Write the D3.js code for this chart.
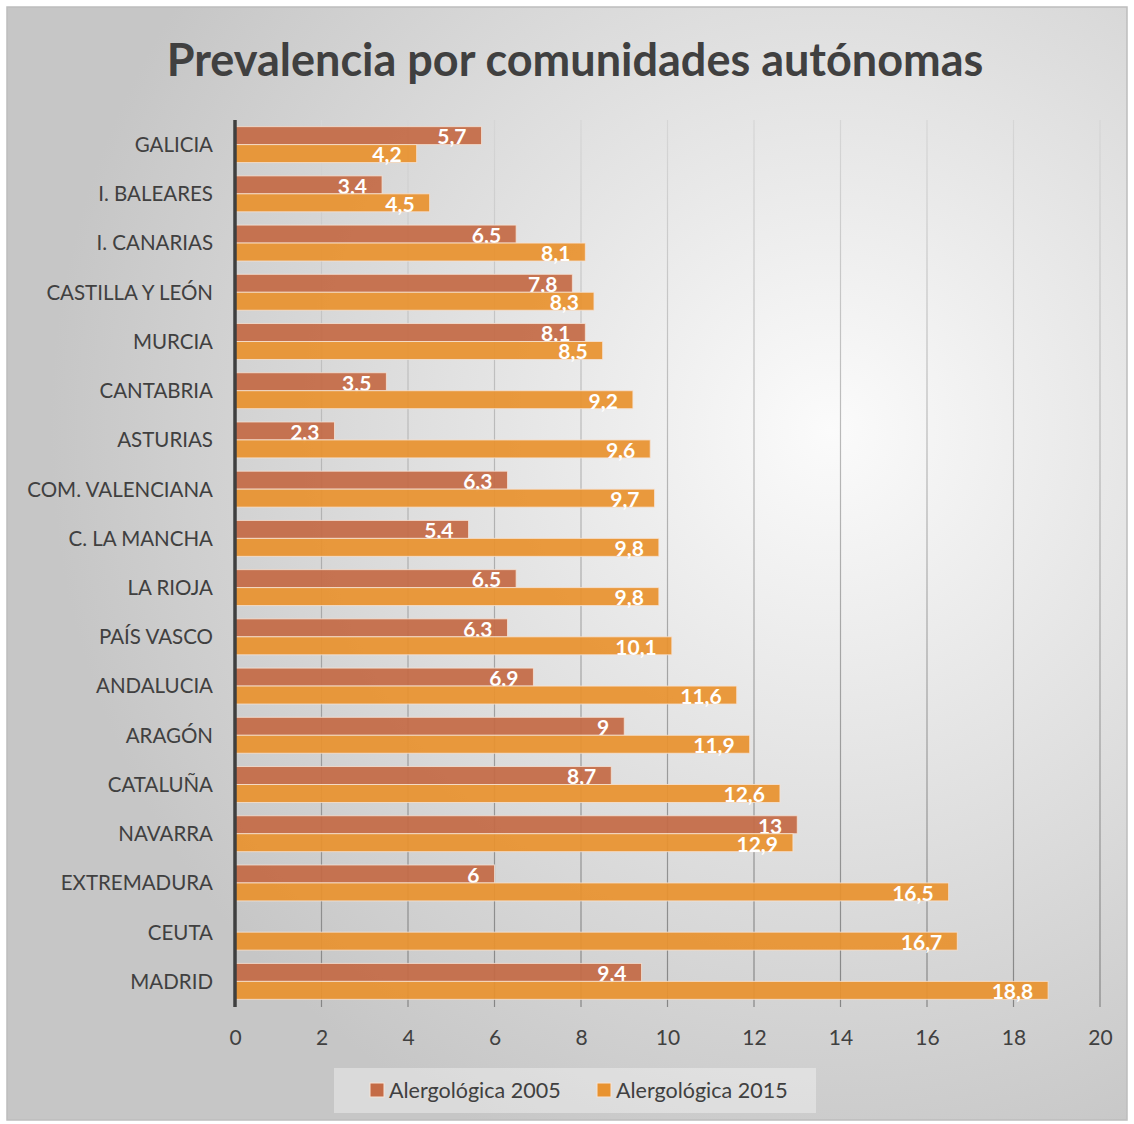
<!DOCTYPE html>
<meta charset="utf-8">
<head>
    <title>Prevalencia por comunidades autónomas</title>
</head>
<style>
    body { margin: 0; background: #fff; }
    text { font-family: Lato, "Open Sans", sans-serif; }
</style>
<script src="https://d3js.org/d3.v7.min.js"></script>
<body>
<div id="chart"></div>
</body>
<script>

    // data
    var categories = ["GALICIA", "I. BALEARES", "I. CANARIAS", "CASTILLA Y LEÓN", "MURCIA", "CANTABRIA",
        "ASTURIAS", "COM. VALENCIANA", "C. LA MANCHA", "LA RIOJA", "PAÍS VASCO", "ANDALUCIA",
        "ARAGÓN", "CATALUÑA", "NAVARRA", "EXTREMADURA", "CEUTA", "MADRID"];
    var series = ["Alergológica 2005", "Alergológica 2015"];
    var values2005 = [5.7, 3.4, 6.5, 7.8, 8.1, 3.5, 2.3, 6.3, 5.4, 6.5, 6.3, 6.9, 9, 8.7, 13, 6, null, 9.4];
    var values2015 = [4.2, 4.5, 8.1, 8.3, 8.5, 9.2, 9.6, 9.7, 9.8, 9.8, 10.1, 11.6, 11.9, 12.6, 12.9, 16.5, 16.7, 18.8];
    var xTicks = [0, 2, 4, 6, 8, 10, 12, 14, 16, 18, 20];
    var colors = ["#c46b46", "#e8922f"];

    var W = 1134, H = 1124;

    var svg = d3.select("#chart")
        .append("svg")
        .attr("width", W)
        .attr("height", H);

    var defs = svg.append("defs");

    // background gradient
    var bg = defs.append("radialGradient")
        .attr("id", "bg")
        .attr("gradientUnits", "userSpaceOnUse")
        .attr("cx", 830).attr("cy", 430).attr("r", 780);
    bg.append("stop").attr("offset", "0%").attr("stop-color", "#fbfbfb");
    bg.append("stop").attr("offset", "100%").attr("stop-color", "#c6c6c6");

    var gg = defs.append("linearGradient")
        .attr("id", "gridgrad")
        .attr("gradientUnits", "userSpaceOnUse")
        .attr("x1", 0).attr("y1", 120).attr("x2", 0).attr("y2", 1007);
    gg.append("stop").attr("offset", "0%").attr("stop-color", "#d6d6d6");
    gg.append("stop").attr("offset", "100%").attr("stop-color", "#858585");

    svg.append("rect")
        .attr("x", 7).attr("y", 7)
        .attr("width", 1120).attr("height", 1113)
        .attr("fill", "url(#bg)")
        .attr("stroke", "#bdbdbd")
        .attr("stroke-width", 1.5);

    // title
    svg.append("text")
        .attr("x", 575)
        .attr("y", 76)
        .attr("text-anchor", "middle")
        .attr("font-size", "45px")
        .attr("font-weight", "bold")
        .attr("fill", "#404040")
        .text("Prevalencia por comunidades autónomas");

    // scales
    var x = d3.scaleLinear()
        .domain([0, 20])
        .range([235, 1100]);

    var y = d3.scaleBand()
        .domain(categories)
        .range([120, 1006])
        .paddingInner(0.27)
        .paddingOuter(0.135);

    var ySub = d3.scaleBand()
        .domain(series)
        .range([0, y.bandwidth()]);

    // gridlines
    svg.append("g")
        .selectAll("line")
        .data(xTicks.slice(1))
        .join("line")
        .attr("x1", function (d) { return x(d); })
        .attr("x2", function (d) { return x(d); })
        .attr("y1", 120)
        .attr("y2", 1007)
        .attr("stroke", "url(#gridgrad)")
        .attr("stroke-width", 1.2);

    // x axis labels
    var xaxis = d3.axisBottom(x)
        .tickValues(xTicks)
        .tickSize(0)
        .tickPadding(0);

    var gx = svg.append("g")
        .attr("transform", "translate(0,1045)")
        .call(xaxis);
    gx.select(".domain").remove();
    gx.selectAll("text")
        .attr("font-family", "Lato, sans-serif")
        .attr("font-size", "21px")
        .attr("fill", "#404040")
        .attr("dy", 0);

    // y axis labels
    var yaxis = d3.axisLeft(y).tickSize(0).tickPadding(22);
    var gy = svg.append("g")
        .attr("transform", "translate(235,0)")
        .call(yaxis);
    gy.select(".domain").remove();
    gy.selectAll("text")
        .attr("font-family", "Lato, sans-serif")
        .attr("font-size", "20.5px")
        .attr("fill", "#404040")
        .attr("dy", "0.36em");

    // bars
    var rows = categories.map(function (c, i) {
        return { cat: c, vals: [values2005[i], values2015[i]] };
    });

    var groups = svg.append("g")
        .selectAll("g")
        .data(rows)
        .join("g")
        .attr("transform", function (d) { return "translate(0," + y(d.cat) + ")"; });

    var cells = groups.selectAll("g")
        .data(function (d) {
            return d.vals.map(function (v, j) { return { s: series[j], v: v, j: j }; })
                .filter(function (e) { return e.v !== null; });
        })
        .join("g");

    cells.append("rect")
        .attr("x", x(0))
        .attr("y", function (d) { return ySub(d.s); })
        .attr("width", function (d) { return x(d.v) - x(0); })
        .attr("height", ySub.bandwidth())
        .attr("fill", function (d) { return colors[d.j]; })
        .attr("fill-opacity", 0.93)
        .attr("stroke", "#f6e3d6")
        .attr("stroke-opacity", 0.8)
        .attr("stroke-width", 1);

    cells.append("text")
        .attr("x", function (d) { return x(d.v) - 15; })
        .attr("y", function (d) { return ySub(d.s) + ySub.bandwidth() / 2; })
        .attr("dy", "0.42em")
        .attr("text-anchor", "end")
        .attr("font-size", "21px")
        .attr("font-weight", "bold")
        .attr("fill", "#fff")
        .text(function (d) { return String(d.v).replace(".", ","); });

    // y axis line
    svg.append("line")
        .attr("x1", x(0)).attr("x2", x(0))
        .attr("y1", 120).attr("y2", 1007)
        .attr("stroke", "#3f3f3f")
        .attr("stroke-width", 3.5);

    // legend
    svg.append("rect")
        .attr("x", 334).attr("y", 1068)
        .attr("width", 482).attr("height", 45)
        .attr("fill", "#ffffff")
        .attr("fill-opacity", 0.35);

    var legendX = [370, 597];
    var leg = svg.append("g")
        .selectAll("g")
        .data(series)
        .join("g")
        .attr("transform", function (d, i) { return "translate(" + legendX[i] + ",1083)"; });

    leg.append("rect")
        .attr("width", 14).attr("height", 14)
        .attr("fill", function (d, i) { return colors[i]; })
        .attr("stroke", "#f6e3d6")
        .attr("stroke-width", 1);

    leg.append("text")
        .attr("x", 19)
        .attr("y", 7)
        .attr("dy", "0.36em")
        .attr("font-size", "21.5px")
        .attr("fill", "#404040")
        .text(function (d) { return d; });

</script>
